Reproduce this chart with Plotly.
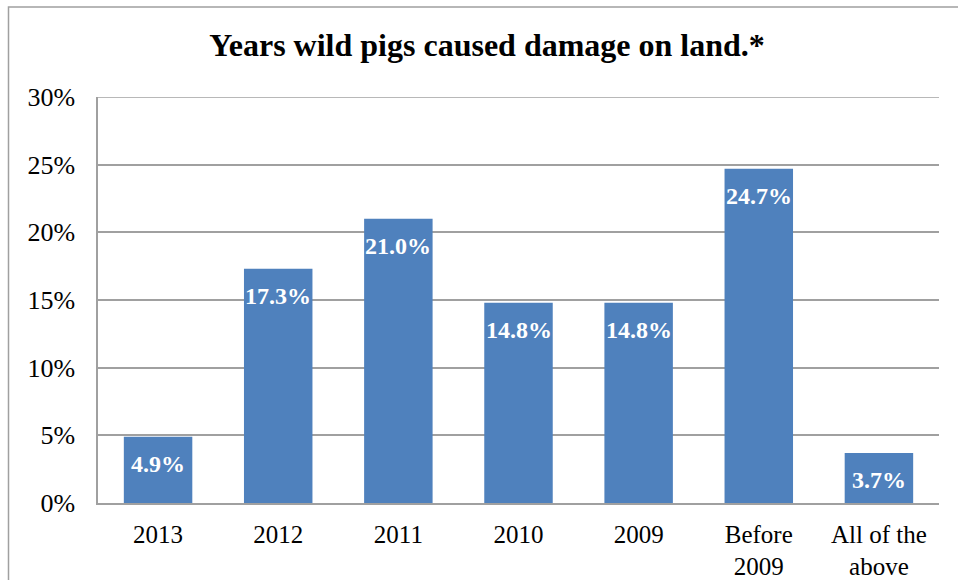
import plotly.graph_objects as go

# Survey results: year(s) in which wild pigs caused damage on the respondent's land
categories = ["2013", "2012", "2011", "2010", "2009", "Before<br>2009", "All of the<br>above"]
percent_values = [4.9, 17.3, 21.0, 14.8, 14.8, 24.7, 3.7]
y_ticks = [0, 5, 10, 15, 20, 25, 30]
y_tick_labels = [f"{t}%" for t in y_ticks]

TITLE = "Years wild pigs caused damage on land.*"
BAR_COLOR = "#4F81BD"
GRID_COLOR = "#A0A0A0"
SERIF = "Liberation Serif, Times New Roman, serif"

W, H = 958, 580
M_L, M_R, M_T, M_B = 98, 19, 97, 77
plot_w = W - M_L - M_R
plot_h = H - M_T - M_B

fig = go.Figure(
    go.Bar(
        x=categories,
        y=percent_values,
        width=0.57,
        marker=dict(color=BAR_COLOR, line=dict(width=0)),
        hovertemplate="%{x}: %{y:.1f}%<extra></extra>",
    )
)

# Value labels sitting just inside the top of each bar
# (category positions given by index, since year-like names would be read as indices)
for i, val in enumerate(percent_values):
    fig.add_annotation(
        x=i, y=val, xref="x", yref="y",
        text=f"<b>{val:.1f}%</b>",
        showarrow=False,
        yanchor="middle", yshift=-27,
        font=dict(family=SERIF, size=24, color="white"),
    )

# Outer chart frame (extends past the right and bottom edges)
def px_to_paper_x(px):
    return (px - M_L) / plot_w

def px_to_paper_y(py):
    return (H - M_B - py) / plot_h

fig.add_shape(
    type="rect", xref="paper", yref="paper",
    x0=px_to_paper_x(8.5), x1=px_to_paper_x(975),
    y0=px_to_paper_y(600), y1=px_to_paper_y(7),
    line=dict(color="#A0A0A0", width=1.5),
    fillcolor="rgba(0,0,0,0)",
    layer="below",
)

# Top gridline at the upper end of the value range
fig.add_shape(
    type="line", xref="paper", yref="y",
    x0=0, x1=1, y0=y_ticks[-1], y1=y_ticks[-1],
    line=dict(color=GRID_COLOR, width=1.5),
    layer="below",
)

fig.update_layout(
    width=W, height=H,
    margin=dict(l=M_L, r=M_R, t=M_T, b=M_B, autoexpand=False),
    paper_bgcolor="white",
    plot_bgcolor="white",
    showlegend=False,
    title=dict(
        text=f"<b>{TITLE}</b>",
        x=487 / W, xanchor="center", xref="container",
        y=1 - 45 / H, yanchor="middle", yref="container",
        font=dict(family=SERIF, size=32, color="black"),
    ),
    font=dict(family=SERIF, color="black"),
)

fig.update_xaxes(
    type="category",
    range=[-0.5, len(categories) - 0.5],
    automargin=False,
    showgrid=False,
    showline=True, linecolor=GRID_COLOR, linewidth=1.5,
    ticks="", ticklabelstandoff=8,
    tickfont=dict(family=SERIF, size=25, color="black"),
)
fig.update_yaxes(
    range=[0, 30],
    automargin=False,
    tickvals=y_ticks, ticktext=y_tick_labels,
    showgrid=True, gridcolor=GRID_COLOR, gridwidth=1.5,
    showline=True, linecolor=GRID_COLOR, linewidth=1.5,
    zeroline=False,
    ticks="", ticklabelstandoff=16,
    tickfont=dict(family=SERIF, size=26, color="black"),
)

fig.write_html("out.html")
